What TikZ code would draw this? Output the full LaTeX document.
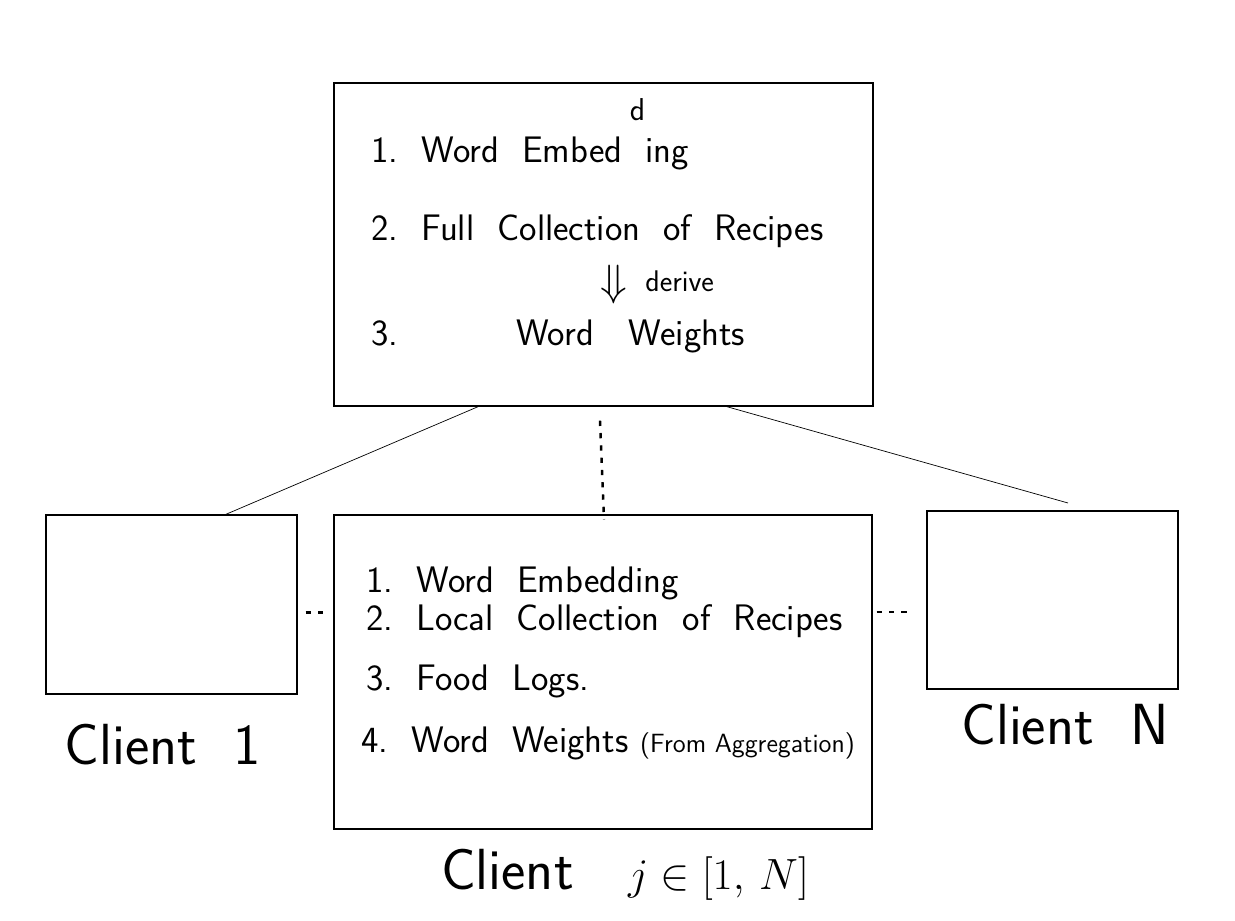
\documentclass[tikz,border=0pt]{standalone}
\usetikzlibrary{calc}
\begin{document}
\begin{tikzpicture}[every node/.style={font=\sffamily\fontsize{21}{25}\selectfont},box/.style={draw,thick,inner sep=0pt},line/.style={thin},gap/.style={line width=1.4pt,dash pattern=on 3pt off 4pt},big/.style={font=\sffamily\fontsize{33}{38}\selectfont}]
\useasboundingbox (0,0) rectangle (24.7,-18.42);
% server and the three clients
\node[box,minimum width=10.78cm,minimum height=6.46cm] (srv) at (12.07,-4.89){};
\node[box,minimum width=5.02cm,minimum height=3.58cm] (cl1) at (3.43,-12.09){};
\node[box,minimum width=10.76cm,minimum height=6.28cm] (clj) at (12.06,-13.44){};
\node[box,minimum width=5.02cm,minimum height=3.56cm] (cln) at (21.05,-12.0){};
% server contents
\node[anchor=base west] (s1) at (7.3,-3.26){1.\ \ Word\ \ Embed\ \ ing};
\node[font=\sffamily\fontsize{18}{20}\selectfont,inner sep=0pt] (sd) at (12.75,-2.2){d};
\node[anchor=base west] (s2) at (7.3,-4.8){2.\ \ Full\ \ Collection\ \ of\ \ Recipes};
\node[font=\fontsize{32}{34}\selectfont,inner sep=0pt] (sa) at (12.28,-5.7){$\Downarrow$};
\node[anchor=west,font=\sffamily\fontsize{17}{20}\selectfont,inner sep=0pt] (sv) at (12.9,-5.62){derive};
\node[anchor=base west] (s3) at (7.3,-6.9){3.};
\node[anchor=base west] (s4) at (10.2,-6.9){Word\ \ \ Weights};
% client j contents
\node[anchor=base west] (c1) at (7.2,-11.84){1.\ \ Word\ \ Embedding};
\node[anchor=base west] (c2) at (7.2,-12.6){2.\ \ Local\ \ Collection\ \ of\ \ Recipes};
\node[anchor=base west] (c3) at (7.2,-13.8){3.\ \ Food\ \ Logs.};
\node[anchor=base west] (c4) at (7.1,-15.04){4.\ \ Word\ \ Weights\ {\fontsize{15}{18}\selectfont(From Aggregation)}};
% labels
\node[big] (l1) at (3.26,-14.9){Client\ \ 1};
\node[big] (ln) at (21.3,-14.5){Client\ \ N};
\node[big] (lj) at (12.5,-17.5){Client\ \ \ $j\in[1,\,N]$};
% connectors
\coordinate (tipn) at (21.36,-10.06);
\draw[line] ($(srv.south)+(-2.51,0)$) -- ($(cl1.north)+(1.09,0)$);
\draw[line] ($(srv.south)+(2.47,0)$) -- (tipn);
\draw[gap] ($(srv.south)+(-0.07,-0.28)$) -- ($(clj.north)+(0.02,-0.1)$);
\draw[gap] ($(cl1.east)+(0.16,-0.16)$) -- ($(clj.west |- cl1.east)+(-0.2,-0.16)$);
\draw[gap] ($(clj.east |- cln.west)+(0.08,-0.24)$) -- ($(cln.west)+(-0.3,-0.24)$);
\end{tikzpicture}
\end{document}
